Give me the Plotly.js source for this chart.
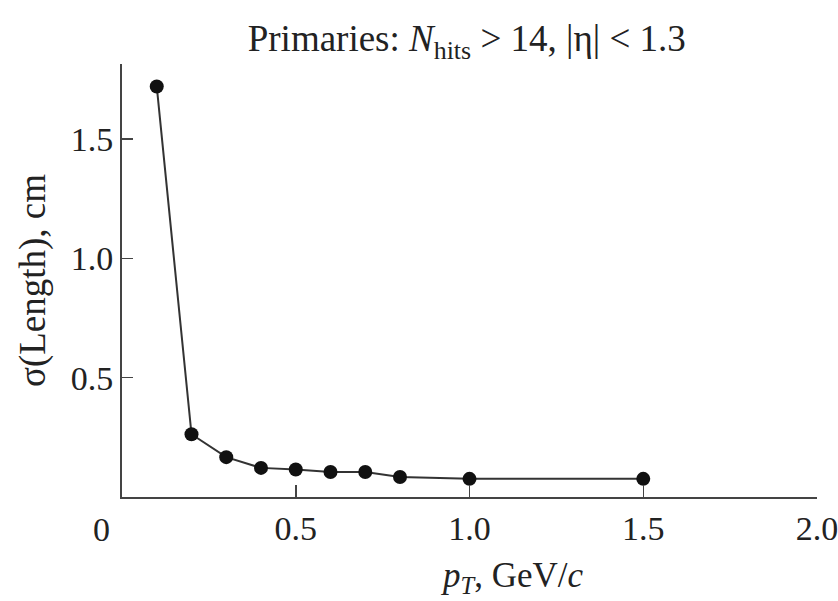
<!DOCTYPE html>
<html>
<head>
<meta charset="utf-8">
<script src="https://cdn.plot.ly/plotly-3.0.1.min.js"></script>
<style>html,body{margin:0;padding:0;background:#fff;}</style>
</head>
<body>
<div id="chart" style="width:838px;height:601px;"></div>
<script>
const pT = [0.1, 0.2, 0.3, 0.4, 0.5, 0.6, 0.7, 0.8, 1.0, 1.5];
const sigmaLength = [1.72, 0.263, 0.167, 0.122, 0.115, 0.105, 0.105, 0.084, 0.076, 0.076];
const xTickVals = [0.5, 1.0, 1.5, 2.0];
const xTickText = ['0.5', '1.0', '1.5', '2.0'];
const yTickVals = [0.5, 1.0, 1.5];
const yTickText = ['0.5', '1.0', '1.5'];

const font = 'Liberation Serif, Times New Roman, serif';
const ink = '#222';

const trace = {
  x: pT, y: sigmaLength, type: 'scatter', mode: 'lines+markers',
  line: {color: '#333', width: 2},
  marker: {color: '#111', size: 14},
  showlegend: false
};

const layout = {
  width: 838, height: 601,
  margin: {l: 122, r: 21, t: 64, b: 104},
  paper_bgcolor: '#fff', plot_bgcolor: '#fff',
  font: {family: font, color: ink, size: 34},
  title: {
    text: 'Primaries: <i>N</i><sub>hits</sub> &gt; 14, |η| &lt; 1.3',
    font: {family: font, size: 37, color: ink},
    x: 0.557, xref: 'container', xanchor: 'center',
    y: 0.937, yref: 'container', yanchor: 'middle'
  },
  xaxis: {
    range: [0, 2.0], showgrid: false, zeroline: false,
    showline: true, linecolor: '#444', linewidth: 2,
    ticks: 'inside', ticklen: 12, tickwidth: 1.5, tickcolor: '#444',
    tickvals: xTickVals, ticktext: xTickText, ticklabeloverflow: 'allow',
    tickfont: {family: font, size: 34, color: ink}
  },
  yaxis: {
    range: [0, 1.814], showgrid: false, zeroline: false,
    showline: true, linecolor: '#444', linewidth: 2,
    ticks: 'inside', ticklen: 11, tickwidth: 1.5, tickcolor: '#444',
    tickvals: yTickVals, ticktext: yTickText,
    tickfont: {family: font, size: 34, color: ink},
    title: {text: 'σ(Length), cm', font: {family: font, size: 37, color: ink}, standoff: 14}
  },
  annotations: [
    {
      text: '0', xref: 'paper', yref: 'paper', x: -0.029, y: 0,
      xanchor: 'center', yanchor: 'top', yshift: -12, showarrow: false,
      font: {family: font, size: 34, color: ink}
    },
    {
      text: '<i>p</i><sub><i>T</i></sub>, GeV/<i>c</i>', xref: 'paper', yref: 'paper',
      x: (512 - 122) / 695, y: 0, xanchor: 'center', yanchor: 'middle', yshift: -80,
      showarrow: false, font: {family: font, size: 35, color: ink}
    }
  ]
};

Plotly.newPlot('chart', [trace], layout, {displayModeBar: false, staticPlot: true});
</script>
</body>
</html>
